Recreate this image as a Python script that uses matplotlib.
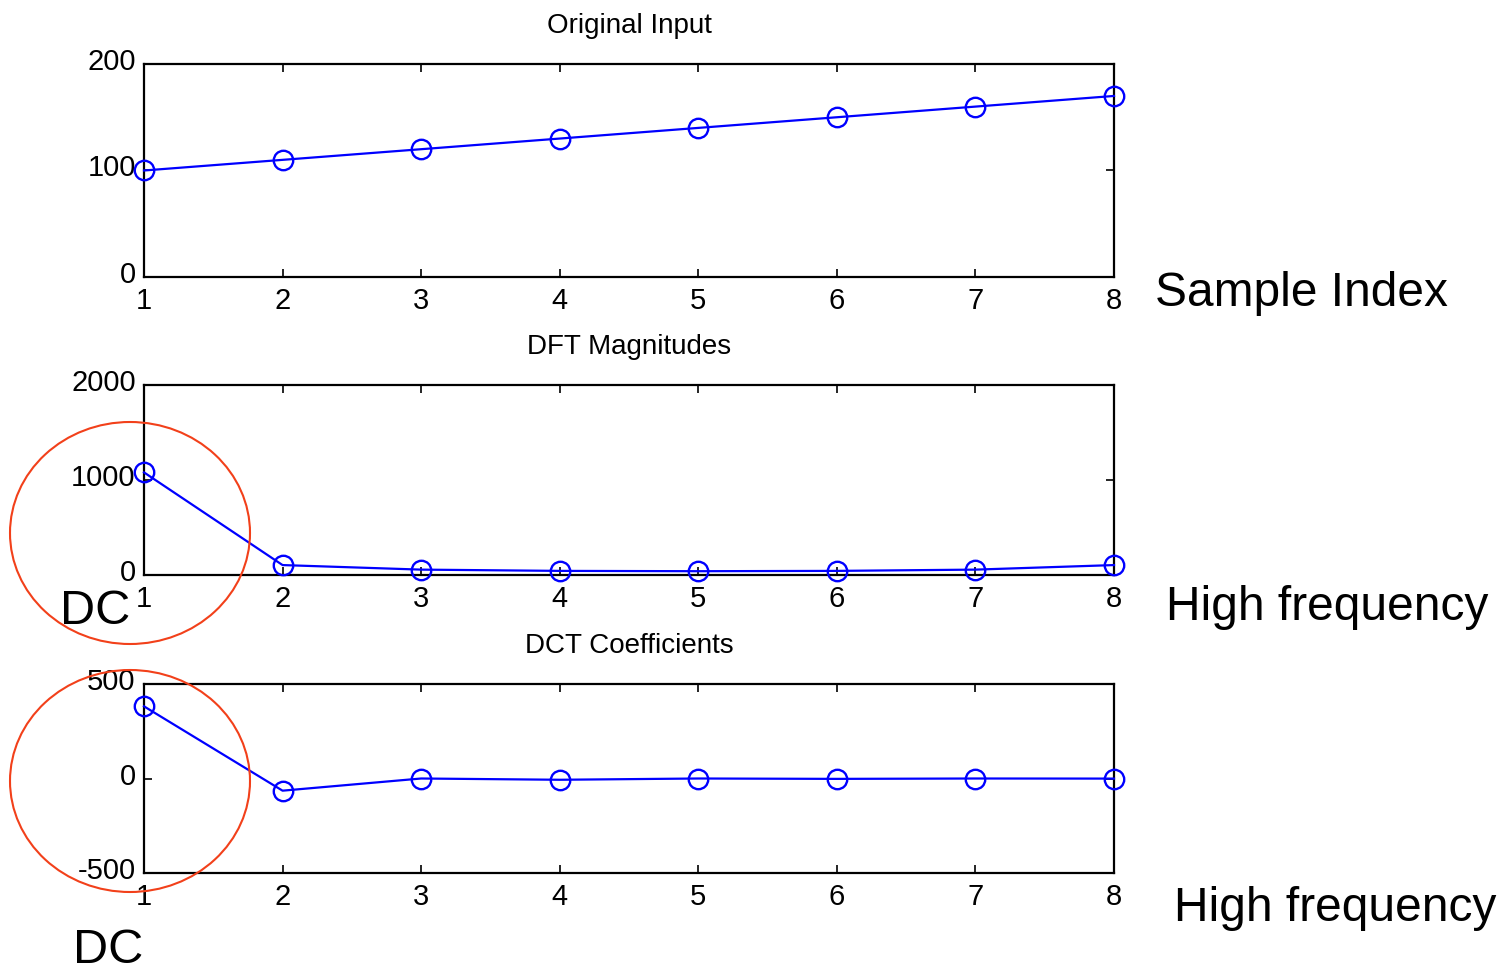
import numpy as np
from matplotlib import pyplot as plt
from matplotlib.patches import Ellipse
from matplotlib.transforms import ScaledTranslation

plt.rcParams['font.family'] = ['Liberation Sans', 'DejaVu Sans']
plt.rcParams['axes.unicode_minus'] = False

# data
idx = [1, 2, 3, 4, 5, 6, 7, 8]
original = [100, 110, 120, 130, 140, 150, 160, 170]
dft_mag = [1080, 104.5, 56.6, 43.3, 40, 43.3, 56.6, 104.5]
dct_coef = [381.8, -64.4, 0, -6.7, 0, -2.0, 0, -0.5]

titles = ['Original Input', 'DFT Magnitudes', 'DCT Coefficients']
series = [original, dft_mag, dct_coef]
ylims = [(0, 200), (0, 2000), (-500, 500)]
yticks = [[0, 100, 200], [0, 1000, 2000], [-500, 0, 500]]

W, H = 1510, 971
fig = plt.figure(figsize=(W / 100, H / 100), dpi=100)

# axes boxes in pixels: top, bottom
boxes = [(64, 277), (385, 575), (684, 873)]
left, right = 144, 1114
lift = ScaledTranslation(0, 5 / 100, fig.dpi_scale_trans)

for (top, bot), t, y, yl, yt in zip(boxes, titles, series, ylims, yticks):
    ax = fig.add_axes([left / W, 1 - bot / H, (right - left) / W, (bot - top) / H])
    ax.plot(idx, y, '-o', color='#0000ff', lw=1.6, ms=14, mfc='none', mew=1.7,
            clip_on=False, zorder=3)
    ax.set_xlim(1, 8)
    ax.set_ylim(*yl)
    ax.set_xticks(idx)
    ax.set_yticks(yt)
    ax.tick_params(direction='in', length=6, width=1.2, top=True, right=True,
                   labelsize=21, pad=7)
    ax.tick_params(axis='y', pad=6)
    for lab in ax.get_yticklabels():
        lab.set_transform(lab.get_transform() + lift)
    for s in ax.spines.values():
        s.set_linewidth(1.6)
    ax.set_title(t, fontsize=20, pad=22)

# side annotations
fig.text(1155 / W, 1 - 293 / H, 'Sample Index', fontsize=34.5, va='center', ha='left')
fig.text(1166 / W, 1 - 607 / H, 'High frequency', fontsize=34.5, va='center', ha='left')
fig.text(1174 / W, 1 - 908 / H, 'High frequency', fontsize=34.5, va='center', ha='left')
fig.text(60 / W, 1 - 612 / H, 'DC', fontsize=35, va='center', ha='left')
fig.text(73 / W, 1 - 950 / H, 'DC', fontsize=35, va='center', ha='left')

# red circles around DC terms
for cy in (533, 781):
    e = Ellipse((130 / W, 1 - cy / H), 240 / W, 222 / H, transform=fig.transFigure,
                fill=False, edgecolor='#f2401a', lw=1.5, zorder=5)
    fig.add_artist(e)

fig.savefig('out.png', dpi=100)
